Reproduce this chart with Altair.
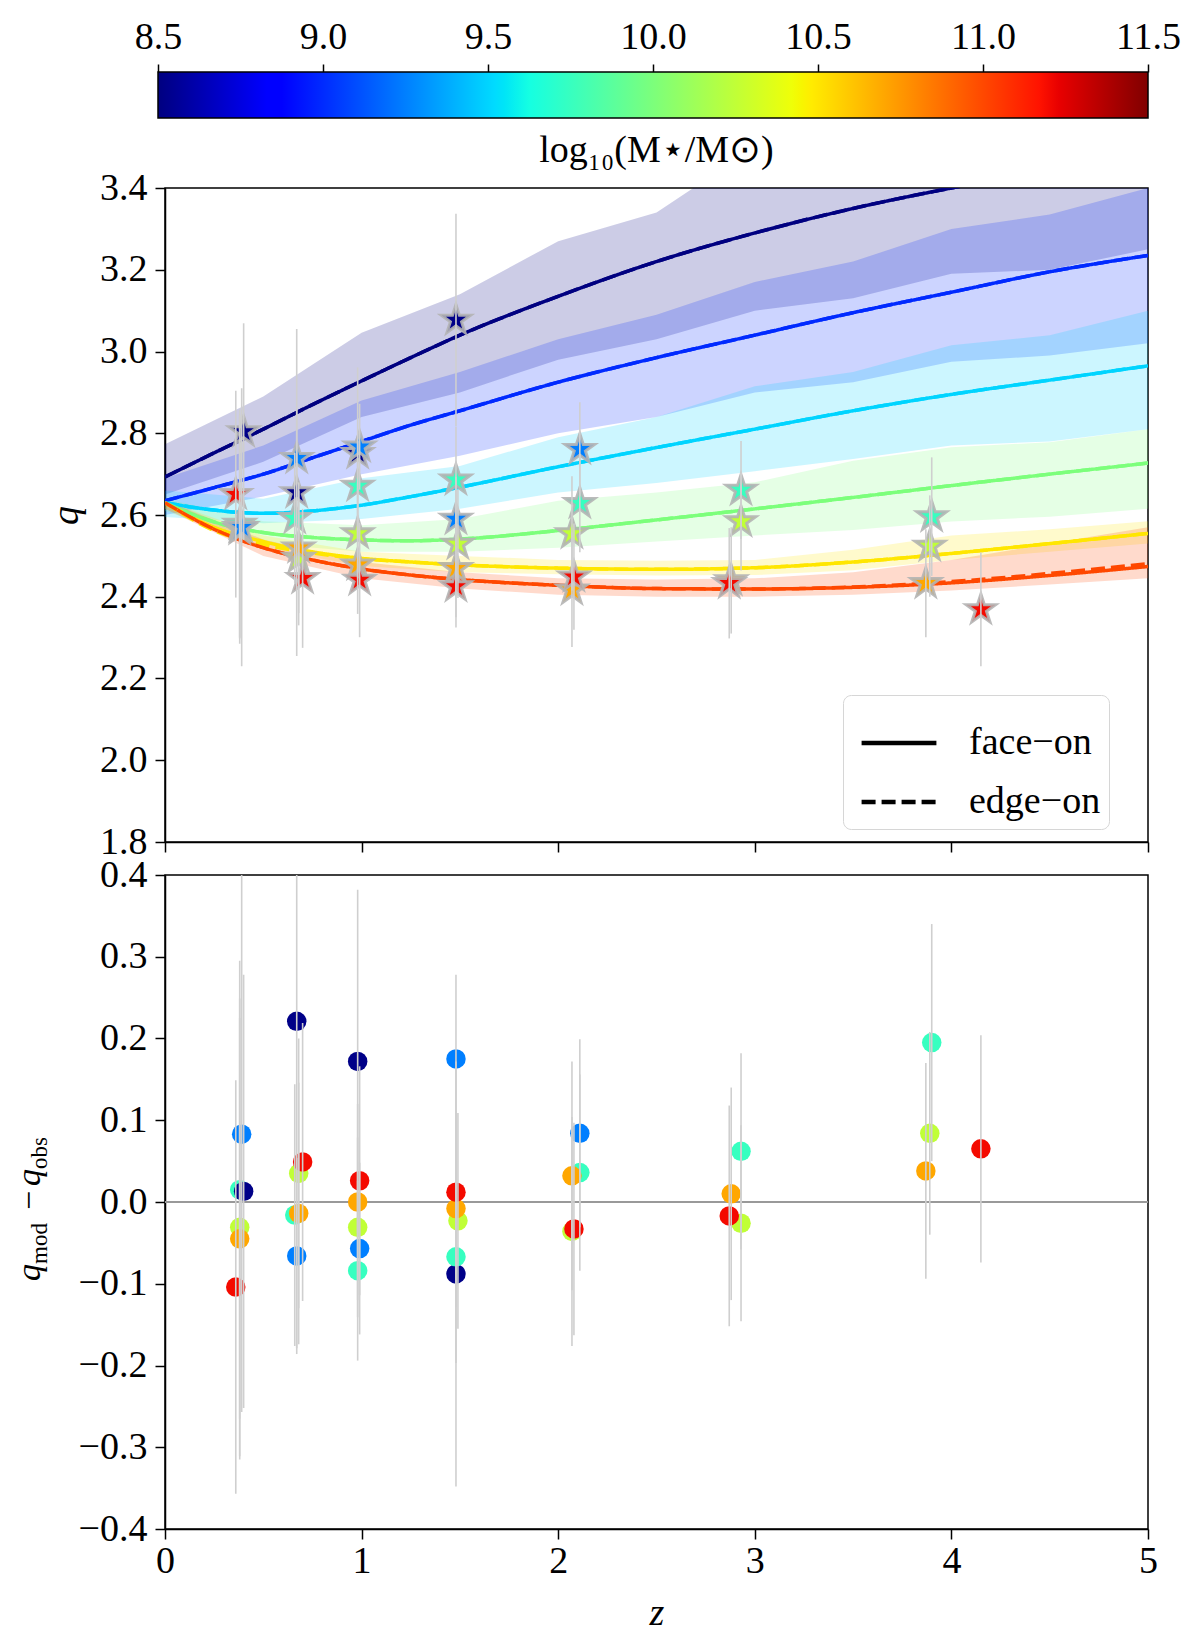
import math

import altair as alt
import pandas as pd

FONT = "Liberation Serif"
FS = 38                  # tick label / legend font size
W, H = 983, 654          # plot area of each panel
CB_H = 46                # colour bar thickness

# ---------------------------------------------------------------------------
# data
# ---------------------------------------------------------------------------
cbar_lo, cbar_hi = 8.5, 11.5
cbar_ticks = [8.5, 9.0, 9.5, 10.0, 10.5, 11.0, 11.5]
z_ticks = [0, 1, 2, 3, 4, 5]
q_ticks = [1.8, 2.0, 2.2, 2.4, 2.6, 2.8, 3.0, 3.2, 3.4]
resid_ticks = [-0.4, -0.3, -0.2, -0.1, 0.0, 0.1, 0.2, 0.3, 0.4]

# model curves (one per stellar mass)
model_mass = [8.5, 9.0, 9.5, 10.0, 10.5, 11.0]
model_z = [0, 0.25, 0.5, 0.75, 1.0, 1.25, 1.5, 2.0, 2.5, 3.0, 3.5, 4.0, 4.5, 5.0]
q_face_85 = [2.693, 2.752, 2.81, 2.87, 2.928, 2.985, 3.04, 3.135, 3.22, 3.29, 3.35, 3.40, 3.445, 3.49]
q_face_90 = [2.635, 2.667, 2.70, 2.74, 2.78, 2.82, 2.855, 2.925, 2.985, 3.04, 3.095, 3.145, 3.195, 3.235]
q_face_95 = [2.63, 2.612, 2.604, 2.61, 2.624, 2.645, 2.668, 2.718, 2.765, 2.81, 2.855, 2.895, 2.93, 2.965]
q_face_100 = [2.63, 2.583, 2.557, 2.545, 2.539, 2.537, 2.541, 2.562, 2.588, 2.615, 2.643, 2.672, 2.70, 2.727]
q_face_105 = [2.63, 2.57, 2.535, 2.51, 2.494, 2.485, 2.478, 2.47, 2.467, 2.471, 2.485, 2.506, 2.53, 2.555]
q_face_110 = [2.63, 2.565, 2.52, 2.49, 2.468, 2.453, 2.442, 2.428, 2.42, 2.419, 2.423, 2.434, 2.452, 2.474]

q_edge_85 = [2.693, 2.752, 2.81, 2.87, 2.928, 2.985, 3.04, 3.135, 3.22, 3.29, 3.35, 3.40, 3.445, 3.49]
q_edge_90 = [2.635, 2.667, 2.70, 2.74, 2.78, 2.82, 2.855, 2.925, 2.985, 3.04, 3.095, 3.145, 3.195, 3.235]
q_edge_95 = [2.63, 2.612, 2.604, 2.61, 2.624, 2.645, 2.668, 2.718, 2.765, 2.81, 2.855, 2.895, 2.93, 2.965]
q_edge_100 = [2.63, 2.583, 2.557, 2.545, 2.539, 2.537, 2.541, 2.562, 2.588, 2.615, 2.643, 2.672, 2.70, 2.727]
q_edge_105 = [2.63, 2.562, 2.528, 2.507, 2.493, 2.485, 2.478, 2.47, 2.467, 2.471, 2.485, 2.506, 2.53, 2.555]
q_edge_110 = [2.63, 2.565, 2.52, 2.49, 2.468, 2.453, 2.442, 2.428, 2.42, 2.419, 2.424, 2.437, 2.457, 2.481]

# scatter of the models (shaded bands)
band_z = [0, 0.5, 1.0, 1.5, 2.0, 2.5, 3.0, 3.5, 4.0, 4.5, 5.0]
band_lo_85 = [2.65, 2.73, 2.84, 2.90, 2.98, 3.03, 3.10, 3.13, 3.19, 3.20, 3.25]
band_hi_85 = [2.773, 2.89, 3.046, 3.14, 3.27, 3.34, 3.50, 3.56, 3.62, 3.66, 3.70]
band_lo_90 = [2.60, 2.645, 2.70, 2.745, 2.80, 2.84, 2.90, 2.925, 2.975, 2.99, 3.02]
band_hi_90 = [2.69, 2.77, 2.88, 2.95, 3.03, 3.09, 3.17, 3.22, 3.30, 3.335, 3.40]
band_lo_95 = [2.595, 2.58, 2.59, 2.615, 2.655, 2.678, 2.707, 2.737, 2.77, 2.78, 2.81]
band_hi_95 = [2.66, 2.64, 2.69, 2.72, 2.79, 2.84, 2.915, 2.95, 3.015, 3.04, 3.10]
band_lo_100 = [2.61, 2.53, 2.51, 2.51, 2.52, 2.535, 2.55, 2.563, 2.584, 2.596, 2.615]
band_hi_100 = [2.64, 2.585, 2.575, 2.59, 2.635, 2.655, 2.68, 2.733, 2.766, 2.778, 2.81]
band_lo_105 = [2.615, 2.52, 2.475, 2.46, 2.455, 2.452, 2.453, 2.465, 2.49, 2.51, 2.53]
band_hi_105 = [2.635, 2.55, 2.51, 2.50, 2.49, 2.488, 2.49, 2.515, 2.55, 2.565, 2.585]
band_lo_110 = [2.615, 2.50, 2.445, 2.42, 2.405, 2.40, 2.40, 2.405, 2.415, 2.43, 2.445]
band_hi_110 = [2.635, 2.54, 2.485, 2.46, 2.445, 2.442, 2.445, 2.46, 2.49, 2.53, 2.57]

# observed samples
obs_z = [0.36, 0.38, 0.38, 0.38, 0.39, 0.40,
         0.67, 0.67, 0.66, 0.68, 0.68, 0.70,
         0.98, 0.99, 0.98, 0.98, 0.98, 0.99,
         1.48, 1.48, 1.48, 1.49, 1.48, 1.48,
         2.11, 2.11, 2.07, 2.07, 2.08,
         2.93, 2.93, 2.88, 2.87,
         3.90, 3.89, 3.87, 4.15]
obs_mass = [11.2, 9.75, 10.25, 10.7, 9.25, 8.52,
            8.52, 9.25, 9.75, 10.25, 10.7, 11.2,
            8.52, 9.25, 9.75, 10.25, 10.7, 11.2,
            8.52, 9.25, 9.75, 10.25, 10.7, 11.2,
            9.25, 9.75, 10.25, 10.7, 11.2,
            9.75, 10.25, 10.7, 11.2,
            9.75, 10.25, 10.7, 11.2]
obs_q = [2.651, 2.578, 2.565, 2.57, 2.57, 2.804,
         2.655, 2.739, 2.592, 2.495, 2.52, 2.445,
         2.751, 2.767, 2.671, 2.555, 2.478, 2.441,
         3.077, 2.59, 2.686, 2.529, 2.47, 2.425,
         2.761, 2.629, 2.555, 2.417, 2.449,
         2.661, 2.584, 2.44, 2.433,
         2.596, 2.524, 2.433, 2.369]
obs_err = [0.253, 0.28, 0.28, 0.27, 0.34, 0.265,
           0.40, 0.12, 0.16, 0.165, 0.16, 0.17,
           0.21, 0.105, 0.11, 0.11, 0.12, 0.14,
           0.26, 0.103, 0.13, 0.132, 0.12, 0.10,
           0.115, 0.12, 0.14, 0.14, 0.13,
           0.12, 0.12, 0.13, 0.135,
           0.145, 0.124, 0.132, 0.139]
obs_resid = [-0.104, 0.015, -0.031, -0.045, 0.083, 0.013,
             0.221, -0.066, -0.016, 0.035, -0.014, 0.049,
             0.172, -0.057, -0.084, -0.031, 0.0, 0.026,
             -0.088, 0.175, -0.067, -0.023, -0.008, 0.012,
             0.084, 0.036, -0.036, 0.032, -0.033,
             0.062, -0.026, 0.01, -0.017,
             0.195, 0.084, 0.038, 0.065]


# ---------------------------------------------------------------------------
# colour map (matplotlib "jet") as a piecewise linear scale
# ---------------------------------------------------------------------------
JET_STOPS = [0, 0.11, 0.125, 0.34, 0.35, 0.375, 0.64, 0.65, 0.66, 0.89, 0.91, 1.0]


def jet(t):
    red = [(0, 0), (0.35, 0), (0.66, 1), (0.89, 1), (1, 0.5)]
    green = [(0, 0), (0.125, 0), (0.375, 1), (0.64, 1), (0.91, 0), (1, 0)]
    blue = [(0, 0.5), (0.11, 1), (0.34, 1), (0.65, 0), (1, 0)]

    def chan(seg):
        for (x0, y0), (x1, y1) in zip(seg, seg[1:]):
            if t <= x1:
                return y0 + (y1 - y0) * (t - x0) / (x1 - x0)
        return seg[-1][1]

    return "#%02x%02x%02x" % tuple(round(255 * chan(s)) for s in (red, green, blue))


mass_scale = alt.Scale(
    domain=[cbar_lo + (cbar_hi - cbar_lo) * s for s in JET_STOPS],
    range=[jet(s) for s in JET_STOPS],
    interpolate="rgb",
)
mass_color = alt.Color("mass:Q", scale=mass_scale, legend=None)


def star_path():
    pts = []
    for k in range(10):
        r = 1.0 if k % 2 == 0 else 0.382
        a = math.radians(-90 + 36 * k)
        pts.append(f"{r * math.cos(a):.4f},{r * math.sin(a):.4f}")
    return "M" + "L".join(pts) + "Z"


STAR = star_path()

# ---------------------------------------------------------------------------
# tables
# ---------------------------------------------------------------------------
face_curves = [q_face_85, q_face_90, q_face_95, q_face_100, q_face_105, q_face_110]
edge_curves = [q_edge_85, q_edge_90, q_edge_95, q_edge_100, q_edge_105, q_edge_110]
band_los = [band_lo_85, band_lo_90, band_lo_95, band_lo_100, band_lo_105, band_lo_110]
band_his = [band_hi_85, band_hi_90, band_hi_95, band_hi_100, band_hi_105, band_hi_110]

line_rows = []
for view, curves in (("face\u2212on", face_curves), ("edge\u2212on", edge_curves)):
    for m, qs in zip(model_mass, curves):
        for z, q in zip(model_z, qs):
            line_rows.append({"z": z, "q": q, "mass": m, "view": view})
lines_df = pd.DataFrame(line_rows)

band_rows = []
for m, los, his in zip(model_mass, band_los, band_his):
    for z, lo, hi in zip(band_z, los, his):
        band_rows.append({"z": z, "lo": lo, "hi": hi, "mass": m})
bands_df = pd.DataFrame(band_rows)

obs_df = pd.DataFrame({"z": obs_z, "mass": obs_mass, "q": obs_q,
                       "err": obs_err, "resid": obs_resid})
obs_df["q_lo"] = obs_df["q"] - obs_df["err"]
obs_df["q_hi"] = obs_df["q"] + obs_df["err"]
obs_df["r_lo"] = obs_df["resid"] - obs_df["err"]
obs_df["r_hi"] = obs_df["resid"] + obs_df["err"]

# ---------------------------------------------------------------------------
# scales / axes
# ---------------------------------------------------------------------------
z_scale = alt.Scale(domain=[0, 5], nice=False, zero=False)
q_scale = alt.Scale(domain=[1.8, 3.4], nice=False, zero=False)
r_scale = alt.Scale(domain=[-0.4, 0.4], nice=False, zero=False)

axis_text = dict(labelFont=FONT, labelFontSize=FS, labelColor="black",
                 titleFont=FONT, titleFontSize=FS, titleColor="black",
                 titleFontWeight="normal")

x_top = alt.X("z:Q", scale=z_scale,
              axis=alt.Axis(values=z_ticks, labels=False, title=None, **axis_text))
x_bot = alt.X("z:Q", scale=z_scale,
              axis=alt.Axis(values=z_ticks, format="d", title="z", titleFontStyle="italic",
                            titlePadding=14, labelPadding=3, **axis_text))
q_axis = alt.Axis(values=q_ticks, format=".1f", title="q", titleFontStyle="italic",
                  titlePadding=14, **axis_text)
r_axis = alt.Axis(values=resid_ticks, format=".1f", title=None, **axis_text)


def yq(field):
    return alt.Y(f"{field}:Q", scale=q_scale, axis=q_axis)


def yr(field):
    return alt.Y(f"{field}:Q", scale=r_scale, axis=r_axis)


# ---------------------------------------------------------------------------
# colour bar
# ---------------------------------------------------------------------------
jet_gradient = alt.LinearGradient(
    gradient="linear",
    stops=[alt.GradientStop(color=jet(s), offset=s) for s in JET_STOPS],
    x1=0, x2=1, y1=0, y2=0,
)
cbar = (
    alt.Chart(pd.DataFrame({"lo": [cbar_lo], "hi": [cbar_hi]}))
    .mark_rect(fill=jet_gradient, stroke="black", strokeWidth=1.5)
    .encode(
        x=alt.X("lo:Q",
                scale=alt.Scale(domain=[cbar_lo, cbar_hi], range=[-7, W], nice=False, zero=False),
                axis=alt.Axis(orient="top", values=cbar_ticks, format=".1f", title=None,
                              domain=False, tickSize=8, labelPadding=8, **axis_text)),
        x2="hi:Q",
        y=alt.value(0),
        y2=alt.value(CB_H),
    )
    .properties(
        width=W, height=CB_H,
        view=alt.ViewBackground(stroke="transparent"),
        title=alt.TitleParams("log\u2081\u2080(M\u22c6/M\u2299)", orient="bottom", offset=13,
                              font=FONT, fontSize=FS, fontWeight="normal", color="black"),
    )
)

# ---------------------------------------------------------------------------
# upper panel: q(z)
# ---------------------------------------------------------------------------
bands = alt.Chart(bands_df).mark_area(opacity=0.2, clip=True).encode(
    x=x_top, y=yq("lo"), y2="hi:Q", color=mass_color, detail="mass:N"
)
lines = alt.Chart(lines_df).mark_line(strokeWidth=3.5, clip=True, interpolate="monotone").encode(
    x=x_top, y=yq("q"), color=mass_color, detail="mass:N",
    strokeDash=alt.StrokeDash(
        "view:N",
        scale=alt.Scale(domain=["face\u2212on", "edge\u2212on"], range=[[1, 0], [14, 6]]),
        legend=alt.Legend(
            title=None, orient="none", legendX=678, legendY=507, direction="vertical",
            symbolType="stroke", symbolStrokeColor="black", symbolStrokeWidth=4.5,
            symbolSize=5600, symbolOffset=8, labelFont=FONT, labelFontSize=FS,
            labelColor="black", labelOffset=30, labelLimit=400, padding=8, rowPadding=-3,
            fillColor="white", strokeColor="#d6d6d6", cornerRadius=8,
        ),
    ),
)
stars = alt.Chart(obs_df).mark_point(
    shape=STAR, filled=True, size=950, opacity=1,
    stroke="#b4b4b4", strokeWidth=3, strokeOpacity=0.9,
).encode(x=x_top, y=yq("q"), color=mass_color)
q_bars = alt.Chart(obs_df).mark_rule(color="#cfcfcf", strokeWidth=1.6, clip=True).encode(
    x=x_top, y=yq("q_lo"), y2="q_hi:Q"
)
top = alt.layer(bands, lines, stars, q_bars).properties(width=W, height=H)

# ---------------------------------------------------------------------------
# lower panel: residuals
# ---------------------------------------------------------------------------
zero = alt.Chart(pd.DataFrame({"z": [0, 5], "resid": [0.0, 0.0]})).mark_rule(
    color="#999999", strokeWidth=2
).encode(y=yr("resid"))
dots = alt.Chart(obs_df).mark_circle(size=380, opacity=1).encode(
    x=x_bot, y=yr("resid"), color=mass_color
)
r_bars = alt.Chart(obs_df).mark_rule(color="#cfcfcf", strokeWidth=1.6, clip=True).encode(
    x=x_bot, y=yr("r_lo"), y2="r_hi:Q"
)

# y title  q_mod - q_obs, set piece by piece (rotated)
label_pieces = [  # text, size, italic, subscript
    ("q", 34, True, False),
    ("mod", 23, False, True),
    ("\u2212", 34, False, False),
    ("q", 34, True, False),
    ("obs", 23, False, True),
]
piece_len = [17, 47, 31, 17, 32]
title_layers = []
pos = 334 + sum(piece_len) / 2
for (txt, size, italic, sub), ln in zip(label_pieces, piece_len):
    start = pos + (-7 if txt == "\u2212" else 0)
    title_layers.append(
        alt.Chart(pd.DataFrame({"t": [txt]})).mark_text(
            angle=270, align="left", baseline="alphabetic", font=FONT, fontSize=size,
            fontStyle="italic" if italic else "normal", color="black",
        ).encode(x=alt.value(-118 if sub else -125), y=alt.value(start), text="t:N")
    )
    pos -= ln

bottom = alt.layer(zero, dots, r_bars, *title_layers).properties(width=W, height=H)

# ---------------------------------------------------------------------------
panels = alt.vconcat(top, bottom, spacing=33, bounds="flush").resolve_scale(
    x="independent", y="independent", color="independent", strokeDash="independent"
)
chart = (
    alt.vconcat(cbar, panels, spacing=70, bounds="flush")
    .resolve_scale(x="independent", y="independent", color="independent",
                   strokeDash="independent")
    .properties(padding={"left": 4, "top": 9, "right": 10, "bottom": 10},
                background="white")
    .configure_view(stroke="black", strokeWidth=1.5)
    .configure_axis(
        labelFont=FONT, labelFontSize=FS, labelColor="black", labelFlush=False,
        titleFont=FONT, titleFontSize=FS, titleColor="black", titleFontWeight="normal",
        domainColor="black", domainWidth=1.5, tickColor="black", tickWidth=1.5,
        tickSize=10, grid=False, labelPadding=8,
    )
)

chart.save("out.html", embed_options={"renderer": "svg", "actions": False})
